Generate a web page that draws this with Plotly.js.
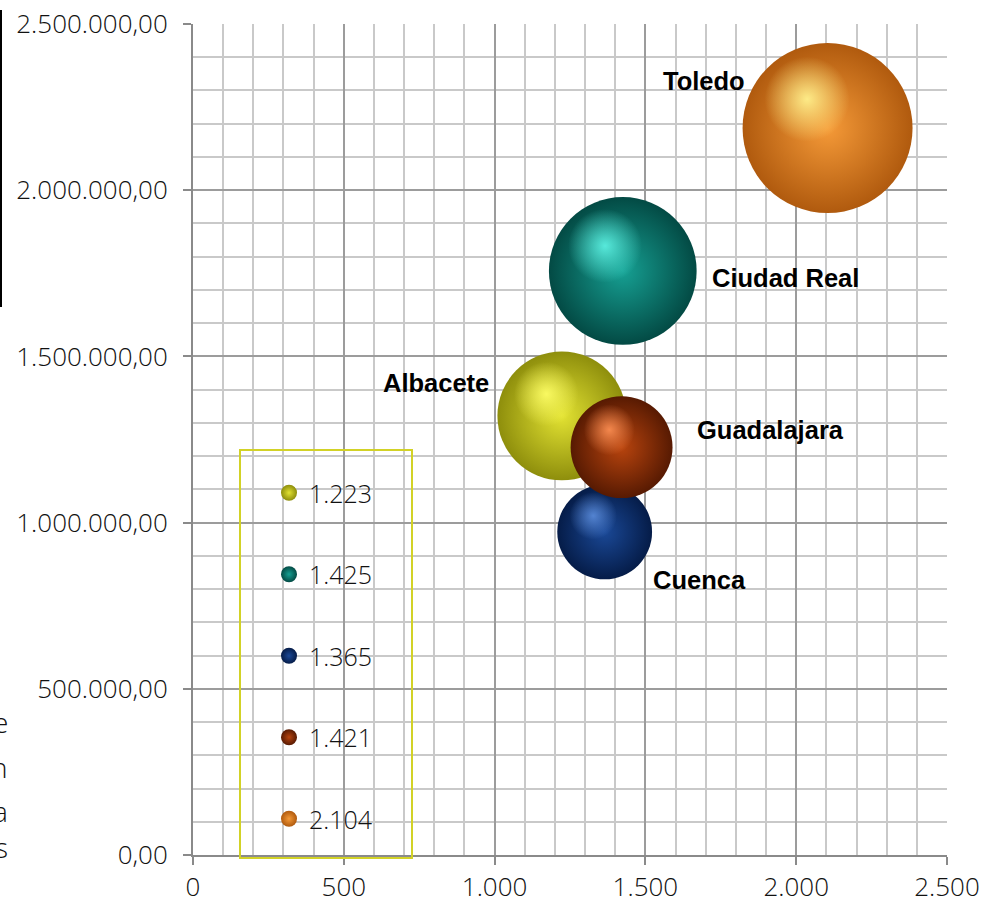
<!DOCTYPE html>
<html>
<head>
<meta charset="utf-8">
<script src="https://cdn.plot.ly/plotly-3.0.1.min.js"></script>
<style>
  html, body { margin: 0; padding: 0; background: #ffffff; }
  #chart { width: 985px; height: 903px; }
</style>
</head>
<body>
<div id="chart"></div>
<script>
// ---- data ----
const provinces = ['Albacete', 'Ciudad Real', 'Cuenca', 'Guadalajara', 'Toledo'];
const xValues = [1223, 1425, 1365, 1421, 2104];
const yValues = [1321000, 1757000, 972000, 1227000, 2187000];
const bubbleSizes = [401000, 527000, 217000, 251000, 698000];
const xTickValues = [0, 500, 1000, 1500, 2000, 2500];
const yTickValues = [0, 500000, 1000000, 1500000, 2000000, 2500000];

// ---- styling ----
const edgeColors = ['#8e8e0c', '#034a44', '#051c48', '#571a02', '#b05a0e'];
const bodyColors = ['#e2e232', '#16a093', '#1a4896', '#b8440e', '#f59a38'];
const lightColors = ['rgba(252,252,100,0.95)', 'rgba(95,245,230,0.9)', 'rgba(95,145,225,0.85)', 'rgba(255,145,85,0.9)', 'rgba(255,240,140,0.95)'];
const clearColors = ['rgba(252,252,100,0)', 'rgba(95,245,230,0)', 'rgba(95,145,225,0)', 'rgba(255,145,85,0)', 'rgba(255,240,140,0)'];

const W = 985, H = 903;
const M = {l: 193, r: 38, t: 24, b: 48};
const plotW = W - M.l - M.r, plotH = H - M.t - M.b;
const xRange = [0, 2500], yRange = [0, 2500000];
const pxPerX = plotW / (xRange[1] - xRange[0]);
const pxPerY = plotH / (yRange[1] - yRange[0]);
const maxDiameterPx = 170;
const pxSizeRef = Math.max(...bubbleSizes) / (maxDiameterPx * maxDiameterPx);
const sizeRef = 2 * pxSizeRef; // plotly area mode scaling

function fmtThousands(v) {
  return String(v).replace(/\B(?=(\d{3})+(?!\d))/g, '.');
}
const seriesNames = xValues.map(fmtThousands);

const traces = [];
provinces.forEach((p, i) => {
  traces.push({
    type: 'scatter', mode: 'markers',
    x: [xValues[i]], y: [yValues[i]],
    name: seriesNames[i], legendgroup: 'g' + i,
    hoverinfo: 'skip',
    marker: {
      size: [bubbleSizes[i]], sizemode: 'area', sizeref: sizeRef, opacity: 1,
      color: edgeColors[i],
      gradient: {type: 'radial', color: bodyColors[i]},
      line: {width: 0}
    }
  });
});
// specular highlight overlays (offset derived from each bubble's own size)
provinces.forEach((p, i) => {
  const d = Math.sqrt(bubbleSizes[i] / pxSizeRef);
  traces.push({
    type: 'scatter', mode: 'markers',
    x: [xValues[i] - 0.12 * d / pxPerX], y: [yValues[i] + 0.17 * d / pxPerY],
    showlegend: false, hoverinfo: 'skip',
    marker: {
      size: 0.5 * d, color: clearColors[i], opacity: 1,
      gradient: {type: 'radial', color: lightColors[i]},
      line: {width: 0}
    }
  });
});

const labelOffsets = [
  {xanchor: 'right', xshift: -71, yshift: 33},
  {xanchor: 'left', xshift: 87, yshift: -7},
  {xanchor: 'left', xshift: 46, yshift: -48},
  {xanchor: 'left', xshift: 73, yshift: 17},
  {xanchor: 'right', xshift: -81, yshift: 47}
];
const annotations = provinces.map((p, i) => Object.assign({
  x: xValues[i], y: yValues[i], xref: 'x', yref: 'y',
  text: p, showarrow: false, yanchor: 'middle',
  font: {family: 'Liberation Sans, Arial, sans-serif', size: 25.5, weight: 'bold', color: '#000000'}
}, labelOffsets[i]));

// cut-off letters at the left edge of the picture
const edgeLetters = ['e', 'n', 'a', 's'];
const edgeLetterPx = [722, 767, 811, 847];
edgeLetters.forEach((t, i) => {
  annotations.push({
    xref: 'paper', yref: 'paper',
    x: (10 - M.l) / plotW, y: (H - M.b - edgeLetterPx[i]) / plotH,
    xanchor: 'right', yanchor: 'middle', showarrow: false, text: t,
    font: {family: 'Open Sans, sans-serif', size: 28, weight: 300, color: '#111111'}
  });
});

const shapes = [
  { // legend frame
    type: 'rect', xref: 'paper', yref: 'paper',
    x0: (240 - M.l) / plotW, x1: (412 - M.l) / plotW,
    y0: (H - M.b - 858) / plotH, y1: (H - M.b - 450) / plotH,
    line: {color: '#d2d226', width: 2}, fillcolor: 'rgba(0,0,0,0)'
  },
  { // fragment of a vertical rule at the far left
    type: 'line', xref: 'paper', yref: 'paper',
    x0: (1 - M.l) / plotW, x1: (1 - M.l) / plotW,
    y0: (H - M.b - 307) / plotH, y1: (H - M.b - 10) / plotH,
    line: {color: '#000000', width: 2}
  }
];

const tickFont = {family: 'Open Sans, sans-serif', size: 26, weight: 300, color: '#111111'};

const layout = {
  width: W, height: H,
  margin: M,
  paper_bgcolor: '#ffffff', plot_bgcolor: '#ffffff',
  separators: ',.',
  showlegend: true,
  legend: {
    x: (269 - M.l) / plotW, xanchor: 'left',
    y: (H - M.b - 470) / plotH, yanchor: 'top',
    bgcolor: 'rgba(0,0,0,0)', borderwidth: 0,
    font: {family: 'Open Sans, sans-serif', size: 25, weight: 300, color: '#111111'},
    tracegroupgap: 46, itemsizing: 'trace',
    traceorder: 'grouped'
  },
  xaxis: {
    range: xRange, tickvals: xTickValues, tickformat: ',d',
    showgrid: true, gridcolor: '#9c9c9c', gridwidth: 2,
    minor: {dtick: 100, showgrid: true, gridcolor: '#c9c9c9', gridwidth: 2, ticks: ''},
    showline: true, linecolor: '#8a8a8a', linewidth: 2,
    ticks: 'outside', ticklen: 8, tickwidth: 2, tickcolor: '#8a8a8a',
    zeroline: false, tickfont: tickFont, ticklabelstandoff: 0
  },
  yaxis: {
    range: yRange, tickvals: yTickValues, tickformat: ',.2f',
    showgrid: true, gridcolor: '#9c9c9c', gridwidth: 2,
    minor: {dtick: 100000, showgrid: true, gridcolor: '#c9c9c9', gridwidth: 2, ticks: ''},
    showline: true, linecolor: '#8a8a8a', linewidth: 2,
    ticks: 'outside', ticklen: 8, tickwidth: 2, tickcolor: '#8a8a8a',
    zeroline: false, tickfont: tickFont, ticklabelstandoff: 10
  },
  annotations: annotations,
  shapes: shapes
};

Plotly.newPlot('chart', traces, layout, {displayModeBar: false, staticPlot: true});
</script>
</body>
</html>
